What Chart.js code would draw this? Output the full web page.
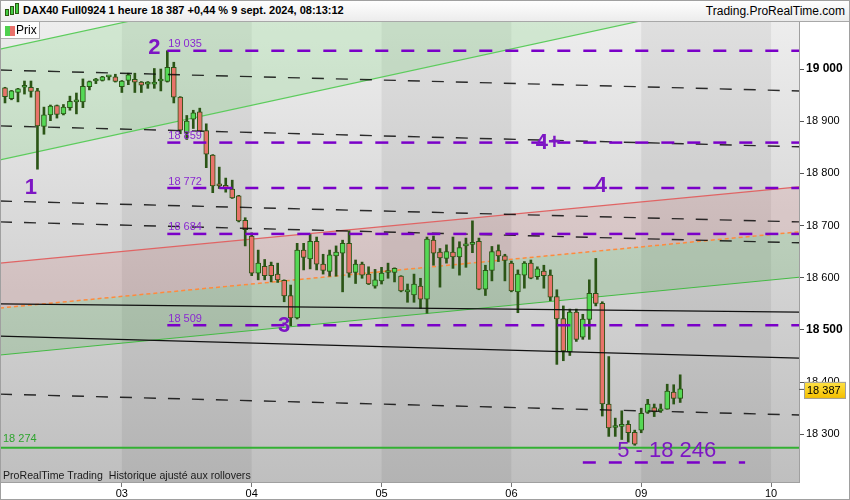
<!DOCTYPE html>
<html>
<head>
<meta charset="utf-8">
<title>DAX40 Full0924 1 heure</title>
<script src="https://cdn.jsdelivr.net/npm/chart.js@4.4.1/dist/chart.umd.min.js"></script>
<style>
  html, body { margin: 0; padding: 0; background: #fff; }
  #wrap { position: relative; width: 850px; height: 500px; overflow: hidden; font-family: "Liberation Sans", Arial, sans-serif; }
  #header { position: absolute; left: 0; top: 0; width: 850px; height: 21px; background: linear-gradient(#ffffff, #ececec); border-bottom: 1px solid #a8a8a8; }
  #title { position: absolute; left: 23px; top: 4px; font-size: 11px; font-weight: bold; color: #000; white-space: nowrap; }
  #site { position: absolute; right: 5px; top: 4px; font-size: 12px; color: #000; white-space: nowrap; }
  #icon { position: absolute; left: 4px; top: 3px; width: 16px; height: 15px; }
  #icon span { position: absolute; background: #44cc44; border: 1px solid #2a5a10; }
  #box { position: absolute; left: 0; top: 22px; }
  #legend { position: absolute; left: 0; top: 22px; width: 39px; height: 16px; background: rgba(255,255,255,0.9); border-right: 1px solid #b0b0b0; border-bottom: 1px solid #b0b0b0; font-size: 12px; }
  #legend i { position: absolute; left: 5px; top: 4px; width: 5px; height: 10px; background: #4fd04f; }
  #legend b { position: absolute; left: 10px; top: 4px; width: 5px; height: 10px; background: #e8706a; }
  #legend span { position: absolute; left: 16px; top: 1px; color: #000; }
  #frame { position: absolute; left: 0; top: 0; width: 848px; height: 498px; border: 1px solid #a0a0a0; pointer-events: none; }
</style>
</head>
<body>
<div id="wrap">
  <div id="header">
    <div id="icon">
      <span style="left:1px;top:6px;width:2px;height:5px"></span>
      <span style="left:6px;top:3px;width:2px;height:7px"></span>
      <span style="left:11px;top:0px;width:2px;height:9px"></span>
    </div>
    <div id="title">DAX40 Full0924 1 heure 18 387 +0,44 % 9 sept. 2024, 08:13:12</div>
    <div id="site">Trading.ProRealTime.com</div>
  </div>
  <canvas id="box" width="850" height="478"></canvas>
  <div id="legend"><i></i><b></b><span>Prix</span></div>
  <div id="frame"></div>
</div>
<script>
// hourly candles, 2 sept (afternoon) to 9 sept 08:00
const opens = [
  18964, 18943, 18955, 18965, 18965, 18958, 18890, 18912, 18930, 18914,
  18926, 18937, 18937, 18966, 18977, 18978, 18985, 18985, 18966, 18978,
  18980, 18975, 18971, 18971, 18977, 18976, 19003, 18946, 18878, 18904,
  18918, 18882, 18835, 18777, 18777, 18770, 18757, 18710, 18680, 18609,
  18622, 18624, 18607, 18595, 18566, 18523, 18653, 18636, 18670, 18626,
  18612, 18642, 18647, 18666, 18610, 18626, 18607, 18584, 18594, 18610,
  18610, 18603, 18573, 18567, 18584, 18559, 18672, 18649, 18637, 18649,
  18640, 18661, 18664, 18670, 18578, 18614, 18652, 18642, 18628, 18573,
  18605, 18628, 18602, 18613, 18605, 18564, 18522, 18458, 18534, 18486,
  18520, 18570, 18551, 18358, 18313, 18315, 18319, 18304, 18308, 18342,
  18351, 18345, 18348, 18381, 18369
];
const highs = [
  18965, 18959, 18963, 18977, 18977, 18963, 18927, 18931, 18931, 18932,
  18948, 18954, 18981, 18977, 18982, 18986, 18987, 18990, 18978, 18992,
  18992, 18976, 18976, 19001, 19000, 19035, 19013, 18947, 18911, 18921,
  18925, 18895, 18836, 18812, 18791, 18787, 18758, 18715, 18686, 18653,
  18635, 18630, 18628, 18596, 18586, 18666, 18666, 18683, 18678, 18645,
  18653, 18661, 18672, 18690, 18634, 18630, 18621, 18616, 18620, 18628,
  18619, 18604, 18588, 18607, 18599, 18678, 18680, 18656, 18663, 18678,
  18669, 18676, 18709, 18676, 18624, 18660, 18663, 18645, 18632, 18615,
  18631, 18634, 18621, 18624, 18615, 18577, 18546, 18540, 18540, 18530,
  18596, 18637, 18554, 18449, 18331, 18345, 18326, 18308, 18350, 18367,
  18358, 18358, 18396, 18395, 18414
];
const lows = [
  18935, 18941, 18937, 18952, 18946, 18808, 18875, 18901, 18906, 18912,
  18921, 18914, 18926, 18960, 18972, 18977, 18979, 18975, 18955, 18970,
  18955, 18955, 18963, 18963, 18958, 18975, 18935, 18876, 18865, 18886,
  18880, 18811, 18763, 18771, 18764, 18752, 18707, 18661, 18604, 18596,
  18596, 18592, 18591, 18554, 18508, 18521, 18615, 18617, 18615, 18607,
  18603, 18603, 18573, 18601, 18589, 18599, 18587, 18580, 18588, 18599,
  18592, 18573, 18553, 18553, 18541, 18532, 18624, 18582, 18628, 18618,
  18605, 18620, 18648, 18577, 18566, 18594, 18631, 18594, 18573, 18533,
  18580, 18598, 18597, 18580, 18556, 18434, 18441, 18451, 18478, 18482,
  18482, 18546, 18335, 18296, 18296, 18290, 18285, 18279, 18303, 18340,
  18334, 18342, 18348, 18358, 18361
];
const closes = [
  18947, 18958, 18962, 18966, 18957, 18891, 18912, 18929, 18913, 18927,
  18938, 18938, 18967, 18976, 18979, 18985, 18986, 18976, 18977, 18989,
  18975, 18969, 18972, 18975, 18979, 19003, 18946, 18883, 18900, 18916,
  18881, 18837, 18776, 18776, 18771, 18753, 18709, 18692, 18609, 18628,
  18604, 18604, 18596, 18565, 18523, 18653, 18639, 18670, 18626, 18614,
  18644, 18649, 18666, 18609, 18626, 18605, 18588, 18596, 18609, 18611,
  18618, 18575, 18574, 18588, 18559, 18674, 18647, 18638, 18650, 18640,
  18658, 18662, 18668, 18578, 18614, 18650, 18642, 18633, 18575, 18607,
  18628, 18599, 18617, 18604, 18563, 18521, 18460, 18534, 18482, 18521,
  18570, 18551, 18358, 18312, 18314, 18319, 18303, 18281, 18340, 18358,
  18343, 18347, 18383, 18369, 18387
];

// day labels and the candle index where each day starts
const dayLabels = ['03', '04', '05', '06', '09', '10'];
const dayStart = [18, 38, 58, 78, 98, 118];
const yTicks = [18300, 18400, 18500, 18600, 18700, 18800, 18900, 19000];
const lastPrice = 18387;

// horizontal levels
const levels = [19035, 18859, 18772, 18684, 18509];
const levelFrom = 25;           // candle of point 2
const target = 18246;
const targetSpan = [89, 114];
const support = 18274;

// trend lines: value at left edge, value at right edge
const dashLines = [
  [18998, 18958],
  [18891, 18851],
  [18747, 18707],
  [18707, 18667],
  [18377, 18337]
];
const solidLines = [
  [18550, 18534],
  [18488, 18446]
];
const upChannelTop = [19038, 19370];
const upChannelBottom = [18826, 19158];
const channelRed = [18628, 18774];
const channelMid = [18542, 18688];
const channelGreen = [18452, 18601];

const X_MIN = -0.77, X_MAX = 122.3;
const Y_MIN = 18208.6, Y_MAX = 19090.1;

const PURPLE = '#7a00c8';
const FONT = '"Liberation Sans", Arial, sans-serif';
const fmt = v => String(Math.round(v)).replace(/\B(?=(\d{3})+(?!\d))/g, ' ');
const seg = (a, b) => [{x: X_MIN, y: a}, {x: X_MAX, y: b}];

function lineSet(pts, color, width, dash, extra) {
  return Object.assign({
    type: 'line', data: pts, borderColor: color, borderWidth: width,
    borderDash: dash || [], pointRadius: 0, fill: false, tension: 0, order: 10
  }, extra || {});
}

const datasets = [
  lineSet(seg(upChannelTop[0], upChannelTop[1]), '#5ccc5c', 1.2),
  lineSet(seg(upChannelBottom[0], upChannelBottom[1]), '#5ccc5c', 1.2, null,
    {fill: '-1', backgroundColor: 'rgba(120,215,120,0.24)'}),
  lineSet(seg(channelRed[0], channelRed[1]), '#e06464', 1.2),
  lineSet(seg(channelMid[0], channelMid[1]), '#ff8a3d', 1.5, [4, 3],
    {fill: '-1', backgroundColor: 'rgba(205,80,80,0.13)'}),
  lineSet(seg(channelGreen[0], channelGreen[1]), '#44bb44', 1.2, null,
    {fill: '-1', backgroundColor: 'rgba(70,170,70,0.2)'})
];

solidLines.forEach(l => datasets.push(lineSet(seg(l[0], l[1]), '#111', 1.2, null, {order: 3})));

// wicks
datasets.push({
  type: 'bar', grouped: false, order: 5,
  data: highs.map((h, i) => ({x: i, y: [lows[i], h]})),
  backgroundColor: '#2b5516', barThickness: 2
});
// bodies
datasets.push({
  type: 'bar', grouped: false, order: 4,
  data: opens.map((o, i) => ({x: i, y: [o, closes[i]]})),
  backgroundColor: ctx => closes[ctx.dataIndex] >= opens[ctx.dataIndex] ? '#55d855' : '#e8736a',
  borderColor: '#2b5516', borderWidth: 1, borderSkipped: false,
  barThickness: 5, minBarLength: 2
});

dashLines.forEach(l => datasets.push(lineSet(seg(l[0], l[1]), 'rgba(10,10,10,0.85)', 1.4, [12, 12], {order: 2})));
datasets.push(lineSet(seg(support, support), '#33b033', 2, null, {order: 2}));
levels.forEach(v => datasets.push(lineSet([{x: levelFrom, y: v}, {x: X_MAX, y: v}], PURPLE, 2.5, [13, 13], {order: 1})));
datasets.push(lineSet([{x: targetSpan[0], y: target}, {x: targetSpan[1], y: target}], PURPLE, 2.5, [13, 13], {order: 1}));

// wave marks drawn as text
const waves = [
  {t: '1', x: 4, y: 18772},
  {t: '2', x: 23, y: 19040},
  {t: '3', x: 43, y: 18508},
  {t: '4+', x: 83.7, y: 18858},
  {t: '4', x: 91.8, y: 18776}
];

const backdrop = {
  id: 'backdrop',
  beforeDraw(chart) {
    const {ctx, chartArea: a, scales: {x}} = chart;
    ctx.save();
    const g = ctx.createLinearGradient(0, a.top, 0, a.bottom);
    g.addColorStop(0, '#ededed');
    g.addColorStop(1, '#bfbfbf');
    ctx.fillStyle = g;
    ctx.fillRect(a.left, a.top, a.width, a.height);
    ctx.fillStyle = 'rgba(0,0,0,0.06)';
    for (let k = 0; k + 1 < dayStart.length; k += 2) {
      const x0 = x.getPixelForValue(dayStart[k]);
      const x1 = x.getPixelForValue(dayStart[k + 1]);
      ctx.fillRect(x0, a.top, x1 - x0, a.height);
    }
    ctx.restore();
  }
};

const notes = {
  id: 'notes',
  afterDraw(chart) {
    const {ctx, chartArea: a, scales: {x, y}} = chart;
    ctx.save();
    ctx.beginPath();
    ctx.rect(a.left, a.top, a.width, a.height);
    ctx.clip();

    // level values
    ctx.font = '11px ' + FONT;
    ctx.fillStyle = '#8a2ad0';
    ctx.textBaseline = 'bottom';
    ctx.textAlign = 'left';
    levels.forEach(v => ctx.fillText(fmt(v), x.getPixelForValue(levelFrom) + 1, y.getPixelForValue(v) - 1));

    ctx.fillStyle = '#2fa52f';
    ctx.fillText(fmt(support), a.left + 3, y.getPixelForValue(support) - 3);

    ctx.fillStyle = '#1a1a1a';
    ctx.textBaseline = 'alphabetic';
    ctx.font = '10.6px ' + FONT;
    ctx.fillText('ProRealTime Trading  Historique ajusté aux rollovers', a.left + 3, a.bottom - 3);

    // wave numbers
    ctx.fillStyle = '#7d16c4';
    ctx.textAlign = 'center';
    ctx.textBaseline = 'middle';
    ctx.font = 'bold 22px ' + FONT;
    waves.forEach(w => ctx.fillText(w.t, x.getPixelForValue(w.x), y.getPixelForValue(w.y)));
    ctx.font = '22px ' + FONT;
    ctx.textAlign = 'left';
    ctx.fillText('5 - ' + fmt(target), x.getPixelForValue(94.3), y.getPixelForValue(18268));
    ctx.restore();

    // last price tag
    const py = y.getPixelForValue(lastPrice);
    ctx.save();
    ctx.strokeStyle = '#555';
    ctx.beginPath();
    ctx.moveTo(a.right, py + 0.5);
    ctx.lineTo(a.right + 5, py + 0.5);
    ctx.stroke();
    const g = ctx.createLinearGradient(0, py - 8, 0, py + 9);
    g.addColorStop(0, '#ffe44a');
    g.addColorStop(1, '#f5c000');
    ctx.fillStyle = g;
    ctx.fillRect(a.right + 5, py - 7, 42, 17);
    ctx.strokeStyle = '#a0a0a0';
    ctx.strokeRect(a.right + 5.5, py - 6.5, 41, 16);
    ctx.fillStyle = '#000';
    ctx.font = '11px ' + FONT;
    ctx.textAlign = 'left';
    ctx.textBaseline = 'middle';
    ctx.fillText(fmt(lastPrice), a.right + 8, py + 2);
    ctx.restore();
  }
};

new Chart(document.getElementById('box').getContext('2d'), {
  data: {datasets: datasets},
  options: {
    responsive: false,
    devicePixelRatio: 1,
    animation: false,
    layout: {padding: 0},
    plugins: {legend: {display: false}, tooltip: {enabled: false}},
    scales: {
      x: {
        type: 'linear', min: X_MIN, max: X_MAX, offset: false,
        afterFit: s => { s.height = 18; s.paddingLeft = 0; s.paddingRight = 0; },
        afterBuildTicks: s => { s.ticks = dayStart.map(d => ({value: d})); },
        ticks: {
          callback: (v, i) => dayLabels[i],
          autoSkip: false, maxRotation: 0, padding: 0,
          color: '#000', font: {size: 11, family: FONT}
        },
        grid: {drawOnChartArea: false, offset: false, tickLength: 5, color: '#777'},
        border: {display: true, color: '#a0a0a0'}
      },
      y: {
        type: 'linear', position: 'right', min: Y_MIN, max: Y_MAX,
        afterFit: s => { s.width = 51; s.paddingTop = 0; s.paddingBottom = 0; },
        afterBuildTicks: s => { s.ticks = yTicks.map(v => ({value: v})); },
        ticks: {
          callback: v => fmt(v),
          padding: 2, color: '#000',
          font: c => ({
            size: c.tick && c.tick.value % 500 === 0 ? 12 : 11,
            weight: c.tick && c.tick.value % 500 === 0 ? 'bold' : 'normal',
            family: FONT
          })
        },
        grid: {drawOnChartArea: false, tickLength: 5, color: '#555'},
        border: {display: true, color: '#a0a0a0'}
      }
    }
  },
  plugins: [backdrop, notes]
});
</script>
</body>
</html>
